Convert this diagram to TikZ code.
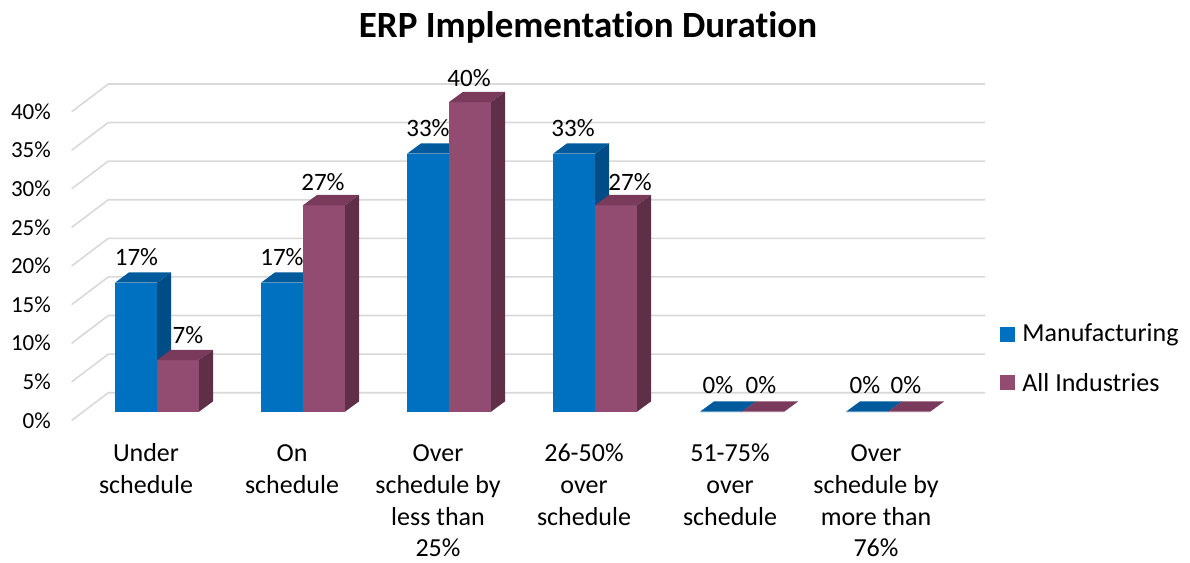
\documentclass[tikz,border=0pt]{standalone}
\usepackage{fontspec}
\usepackage{xcolor}
\usepackage{tikz}
\setmainfont{Carlito}[Ligatures=NoCommon]
\usetikzlibrary{positioning}

\definecolor{mfgfront}{HTML}{0070C0}
\definecolor{mfgtop}{HTML}{005A9C}
\definecolor{mfgside}{HTML}{004C87}
\definecolor{allfront}{HTML}{934C71}
\definecolor{alltop}{HTML}{7A3A5B}
\definecolor{allside}{HTML}{5F2F47}
\definecolor{gridgray}{HTML}{D9D9D9}

\tikzset{
  gridline/.style={draw=gridgray, line width=1.6pt},
  axislabel/.style={anchor=east, inner sep=0pt, font=\fontsize{23}{28}\selectfont},
  vallabel/.style={inner sep=0pt, font=\fontsize{25}{30}\selectfont},
  catlabel/.style={anchor=north, inner sep=0pt, align=center, font=\fontsize{26}{31.7}\selectfont},
  legendkey/.style={minimum size=15pt, inner sep=0pt},
  legendtext/.style={inner sep=0pt, font=\fontsize{26}{31}\selectfont},
}

% 3d bar: left x, value, front, top, side
\newcommand{\erpbar}[5]{%
\fill[#3] (#1,411.7) rectangle (#1+42,{411.7-7.74*#2});
\fill[#4] (#1,{411.7-7.74*#2}) -- (#1+14,{401.4-7.74*#2}) -- (#1+56,{401.4-7.74*#2}) -- (#1+42,{411.7-7.74*#2}) -- cycle;
\fill[#5] (#1+42,{411.7-7.74*#2}) -- (#1+56,{401.4-7.74*#2}) -- (#1+56,401.4) -- (#1+42,411.7) -- cycle;
}

\begin{document}
\begin{tikzpicture}[x=1pt,y=1pt,yscale=-1,xscale=1]
\useasboundingbox (0,0) rectangle (1190,562);

% grid
\draw[gridline] (71.7,420.4) -- (108.3,392.7) -- (985,392.7);
\draw[gridline] (71.7,381.8) -- (108.3,354.1) -- (985,354.1);
\draw[gridline] (71.7,343.2) -- (108.3,315.5) -- (985,315.5);
\draw[gridline] (71.7,304.6) -- (108.3,276.9) -- (985,276.9);
\draw[gridline] (71.7,266.0) -- (108.3,238.3) -- (985,238.3);
\draw[gridline] (71.7,227.4) -- (108.3,199.7) -- (985,199.7);
\draw[gridline] (71.7,188.8) -- (108.3,161.1) -- (985,161.1);
\draw[gridline] (71.7,150.2) -- (108.3,122.5) -- (985,122.5);
\draw[gridline] (71.7,111.7) -- (108.3,84.0) -- (985,84.0);

% bars
\erpbar{115}{16.67}{mfgfront}{mfgtop}{mfgside}
\erpbar{157}{6.67}{allfront}{alltop}{allside}
\erpbar{261}{16.67}{mfgfront}{mfgtop}{mfgside}
\erpbar{303}{26.67}{allfront}{alltop}{allside}
\erpbar{407}{33.33}{mfgfront}{mfgtop}{mfgside}
\erpbar{449}{40}{allfront}{alltop}{allside}
\erpbar{553}{33.33}{mfgfront}{mfgtop}{mfgside}
\erpbar{595}{26.67}{allfront}{alltop}{allside}
\erpbar{700}{0}{mfgfront}{mfgtop}{mfgside}
\erpbar{742}{0}{allfront}{alltop}{allside}
\erpbar{846}{0}{mfgfront}{mfgtop}{mfgside}
\erpbar{888}{0}{allfront}{alltop}{allside}

% title
\node[anchor=base, inner sep=0pt, font=\bfseries\fontsize{37}{44}\selectfont] (title) at (588,37) {ERP Implementation Duration};

% axis
\node[axislabel] (l0) at (51,420.4) {0\%};
\node[axislabel] (l5) at (51,381.8) {5\%};
\node[axislabel] (l10) at (51,343.2) {10\%};
\node[axislabel] (l15) at (51,304.6) {15\%};
\node[axislabel] (l20) at (51,266.0) {20\%};
\node[axislabel] (l25) at (51,227.4) {25\%};
\node[axislabel] (l30) at (51,188.8) {30\%};
\node[axislabel] (l35) at (51,150.2) {35\%};
\node[axislabel] (l40) at (51,111.7) {40\%};

% values
\node[vallabel] (vmfga) at (136.5,257) {17\%};
\node[vallabel] (valla) at (188,335) {7\%};
\node[vallabel] (vmfgb) at (282,257) {17\%};
\node[vallabel] (vallb) at (323,182) {27\%};
\node[vallabel] (vmfgc) at (428,128) {33\%};
\node[vallabel] (vallc) at (469,78) {40\%};
\node[vallabel] (vmfgd) at (573,128) {33\%};
\node[vallabel] (valld) at (630,182.5) {27\%};
\node[vallabel] (vmfge) at (718,385) {0\%};
\node[vallabel] (valle) at (761,385) {0\%};
\node[vallabel] (vmfgf) at (865,385) {0\%};
\node[vallabel] (vallf) at (906,385) {0\%};

% categories
\node[catlabel] (ca) at (146,439.5) {\strut Under\\schedule};
\node[catlabel] (cb) at (292,439.5) {\strut On\\schedule};
\node[catlabel] (cc) at (438,439.5) {\strut Over\\schedule by\\less than\\25\%};
\node[catlabel] (cd) at (584,439.5) {\strut 26-50\%\\over\\schedule};
\node[catlabel] (ce) at (730,439.5) {\strut 51-75\%\\over\\schedule};
\node[catlabel] (cf) at (876,439.5) {\strut Over\\schedule by\\more than\\76\%};

% legend
\node[legendkey, fill=mfgfront] (keymfg) at (1007.5,334.5) {};
\node[legendtext, right=7pt of keymfg] (txtmfg) {Manufacturing};
\node[legendkey, fill=allfront] (keyall) at (1007.5,382.5) {};
\node[legendtext, right=7pt of keyall] (txtall) {All Industries};
\end{tikzpicture}
\end{document}
